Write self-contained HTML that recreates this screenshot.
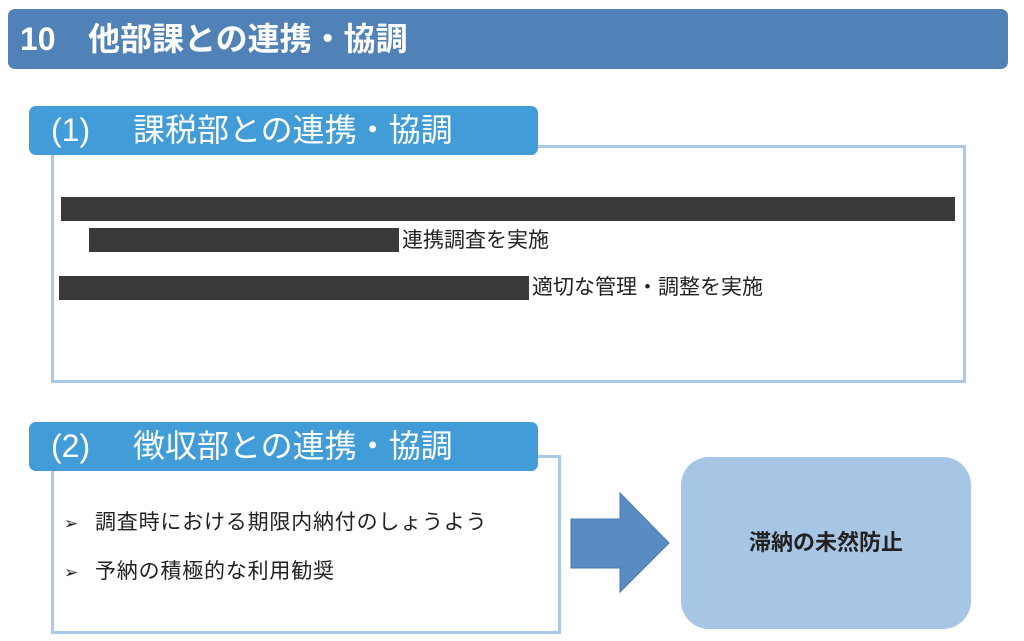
<!DOCTYPE html>
<html><head><meta charset="utf-8">
<style>
body{margin:0;width:1024px;height:641px;background:#fff;position:relative;overflow:hidden;font-family:"Liberation Sans","Noto Sans CJK JP",sans-serif;}
.a{position:absolute;}
.hdr{left:8px;top:9px;width:1000px;height:60px;background:#5081b7;border-radius:7px;color:#fff;font-weight:bold;font-size:32px;line-height:60px;}
.tab{left:29px;width:509px;height:49px;background:#419cd8;border-radius:7px;color:#fff;font-size:32px;line-height:49px;}
.box{border:3px solid #a9c9e8;box-sizing:border-box;background:#fff;}
.bar{background:#3a3a3a;}
.t{font-size:21px;color:#222;line-height:26px;white-space:nowrap;}
</style></head><body>
<div class="a hdr"><span style="position:absolute;left:12px">10</span><span style="position:absolute;left:80px">他部課との連携・協調</span></div>

<div class="a box" style="left:51px;top:145px;width:915px;height:238px"></div>
<div class="a tab" style="top:106px"><span style="position:absolute;left:22px">(1)</span><span style="position:absolute;left:104px">課税部との連携・協調</span></div>
<div class="a bar" style="left:61px;top:197px;width:894px;height:24px"></div>
<div class="a bar" style="left:89px;top:228px;width:310px;height:24px"></div>
<div class="a t" style="left:402px;top:228px">連携調査を実施</div>
<div class="a bar" style="left:59px;top:276px;width:470px;height:24px"></div>
<div class="a t" style="left:532px;top:275px">適切な管理・調整を実施</div>

<div class="a box" style="left:51px;top:455px;width:510px;height:179px"></div>
<div class="a tab" style="top:422px"><span style="position:absolute;left:22px">(2)</span><span style="position:absolute;left:104px">徴収部との連携・協調</span></div>
<div class="a t" style="left:64px;top:510px;letter-spacing:0.8px"><span style="font-size:17px">➢</span><span style="position:absolute;left:31px">調査時における期限内納付のしょうよう</span></div>
<div class="a t" style="left:64px;top:559px;letter-spacing:0.8px"><span style="font-size:17px">➢</span><span style="position:absolute;left:31px">予納の積極的な利用勧奨</span></div>

<svg class="a" style="left:0;top:0" width="1024" height="641"><polygon points="571,519 620,519 620,493 669,543 620,592 620,568 571,568" fill="#5a8cc4" stroke="#4a78ad" stroke-width="1"/></svg>
<div class="a" style="left:681px;top:457px;width:290px;height:172px;background:#a7c5e4;border-radius:28px;text-align:center;line-height:172px;font-weight:bold;font-size:22px;color:#222">滞納の未然防止</div>
</body></html>
